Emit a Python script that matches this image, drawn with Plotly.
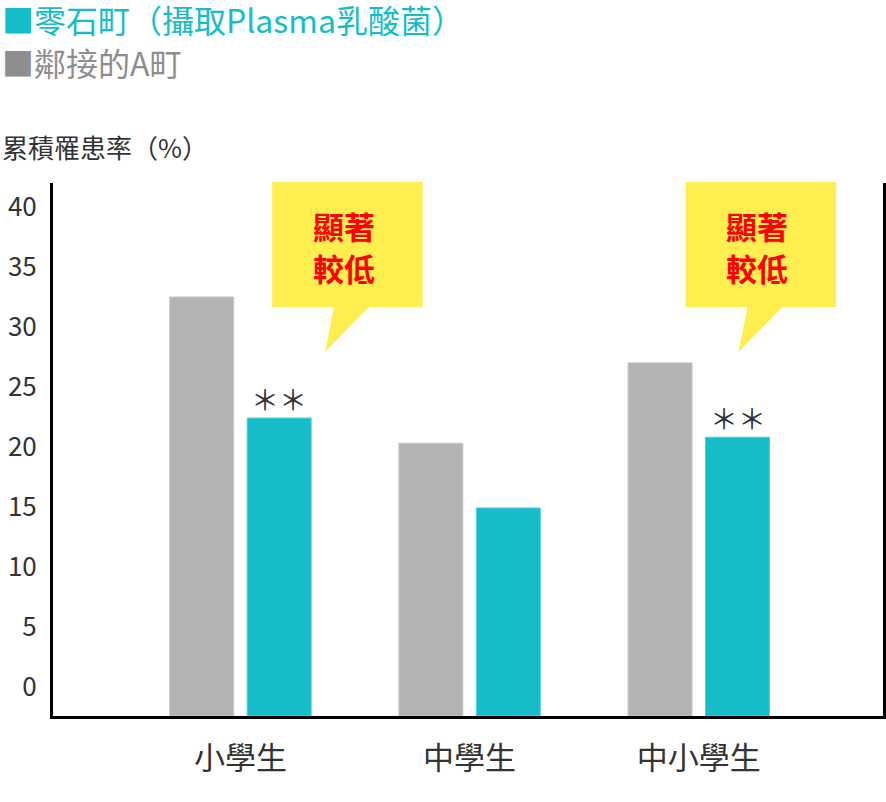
import plotly.graph_objects as go

# data
categories = ['小學生', '中學生', '中小學生']
town_a = [32.5, 20.3, 27.0]          # 鄰接的A町
shizukuishi = [22.4, 14.9, 20.8]     # 零石町（攝取Plasma乳酸菌）
significance = ['＊＊', '', '＊＊']
y_ticks = [0, 5, 10, 15, 20, 25, 30, 35, 40]

TEAL = '#16bdc8'
GREY = '#b3b3b3'
TEXT = '#333333'
YELLOW = '#ffee50'
FONT = 'Noto Sans CJK TC'

Y_FLOOR = -2.45   # bars stand on the axis line, which sits below 0
Y_TOP = 42.0

W, H = 886, 802
L, R, T, B = 53, 0, 183, 86


def px(x):
    return (x - L) / (W - L - R)


def py(y):
    return (H - B - y) / (H - T - B)


fig = go.Figure()
fig.add_trace(go.Bar(
    x=categories, y=[v - Y_FLOOR for v in town_a], base=Y_FLOOR,
    marker=dict(color=GREY, line=dict(color='#c8c8c8', width=1)),
    name='鄰接的A町'
))
fig.add_trace(go.Bar(
    x=categories, y=[v - Y_FLOOR for v in shizukuishi], base=Y_FLOOR,
    marker=dict(color=TEAL, line=dict(color='#4fd0d8', width=1)),
    name='零石町'
))

# significance marks above the teal bars
for cat, val, mark in zip(categories, shizukuishi, significance):
    if mark:
        fig.add_annotation(
            x=cat, y=val, text=mark, showarrow=False,
            xshift=39, yshift=19, yanchor='middle',
            font=dict(family=FONT, size=28, color=TEXT)
        )

# callouts "顯著較低"
for bx in (273, 688):
    fig.add_shape(
        type='path', xref='paper', yref='paper',
        path=(f'M {px(bx)} {py(182)} L {px(bx + 151)} {py(182)} '
              f'L {px(bx + 151)} {py(307)} L {px(bx + 97)} {py(307)} '
              f'L {px(bx + 53)} {py(352)} L {px(bx + 62)} {py(307)} '
              f'L {px(bx)} {py(307)} Z'),
        fillcolor=YELLOW, line=dict(width=0), layer='above'
    )
    for line_y, word in ((225, '顯著'), (267, '較低')):
        fig.add_annotation(
            xref='paper', yref='paper', x=px(bx + 72), y=py(line_y),
            text=f'<b>{word}</b>', showarrow=False,
            font=dict(family=FONT, size=31, color='#ff0000'),
            xanchor='center', yanchor='middle'
        )

# legend and axis title drawn as text
fig.add_annotation(
    xref='paper', yref='paper', x=px(0), y=py(19), xanchor='left',
    yanchor='middle', showarrow=False, text='■零石町（攝取Plasma乳酸菌）',
    font=dict(family=FONT, size=32, color=TEAL)
)
fig.add_annotation(
    xref='paper', yref='paper', x=px(0), y=py(62), xanchor='left',
    yanchor='middle', showarrow=False, text='■鄰接的A町',
    font=dict(family=FONT, size=32, color='#8e8e8e')
)
fig.add_annotation(
    xref='paper', yref='paper', x=px(0), y=py(146), xanchor='left',
    yanchor='middle', showarrow=False, text='累積罹患率（%）',
    font=dict(family=FONT, size=26, color=TEXT)
)

fig.update_layout(
    width=W, height=H,
    margin=dict(l=L, r=R, t=T, b=B),
    paper_bgcolor='white', plot_bgcolor='white',
    showlegend=False,
    barmode='group', bargap=0.324, bargroupgap=0.174,
    font=dict(family=FONT, color=TEXT),
    xaxis=dict(
        range=[-0.818, 2.804], showline=True, linecolor='black', linewidth=3,
        ticks='', showgrid=False, zeroline=False,
        tickfont=dict(size=31, color=TEXT), ticklabelstandoff=13
    ),
    yaxis=dict(
        range=[Y_FLOOR, Y_TOP], tickvals=y_ticks, showline=True,
        linecolor='black', linewidth=3, mirror=True, ticks='',
        showgrid=False, zeroline=False,
        tickfont=dict(size=26, color=TEXT), ticklabelstandoff=8
    ),
)

fig.write_html('out.html', config={'displayModeBar': False},
               post_script="document.body.style.margin = '0';")
